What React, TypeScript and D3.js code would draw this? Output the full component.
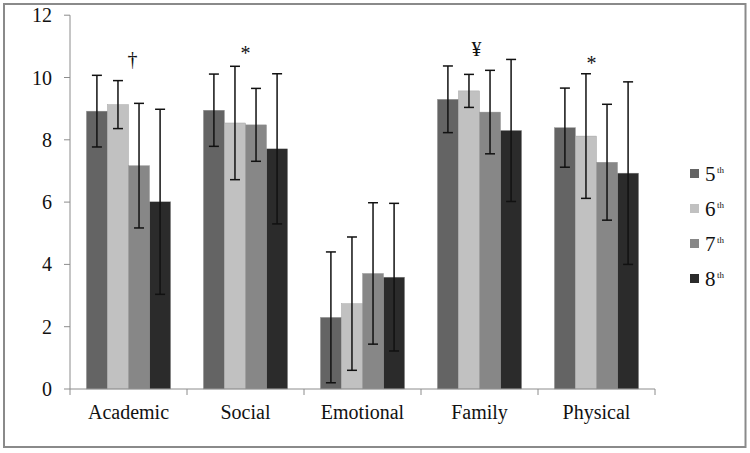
import React from "react";
import * as d3 from "d3";

const categories = ["Academic", "Social", "Emotional", "Family", "Physical"];
const grades = ["5", "6", "7", "8"];
const means = [
  [8.92, 9.13, 7.17, 6.01],
  [8.95, 8.54, 8.48, 7.71],
  [2.3, 2.74, 3.71, 3.59],
  [9.3, 9.57, 8.89, 8.3],
  [8.39, 8.12, 7.28, 6.93],
];
const errors = [
  [1.15, 0.77, 2.0, 2.97],
  [1.16, 1.82, 1.17, 2.41],
  [2.1, 2.14, 2.27, 2.37],
  [1.07, 0.53, 1.34, 2.28],
  [1.27, 2.0, 1.86, 2.93],
];
const markers = ["†", "*", "", "¥", "*"];
const yTicks = [0, 2, 4, 6, 8, 10, 12];
const colors = ["#646464", "#c1c1c1", "#878787", "#2b2b2b"];

export default function App() {
  const W = 750, H = 453;
  const x0 = 70, x1 = 655, yTop = 15.2, yBot = 389;
  const x = d3.scaleBand<string>().domain(categories).range([x0, x1]).paddingInner(0).paddingOuter(0);
  const y = d3.scaleLinear().domain([0, 12]).range([yBot, yTop]);
  const bw = x.bandwidth();
  const groupW = bw * 0.72;
  const barW = groupW / 4;
  const font = "\"Times New Roman\", Tinos, \"Liberation Serif\", \"DejaVu Serif\", \"Noto Serif\", FreeSerif, serif";
  const ts = { fontFamily: font };
  const axisColor = "#8c8c8c";

  return (
    <svg width={W} height={H} style={{ position: "absolute", left: 0, top: 0, fontFamily: font }}>
      <rect x={0} y={0} width={W} height={H} fill="#fff" />
      <rect x={4} y={4} width={741.5} height={443} fill="none" stroke="#8a8a8a" strokeWidth={2} />
      {categories.map((c, ci) => {
        const gx = (x(c) as number) + (bw - groupW) / 2;
        return (
          <g key={c}>
            {grades.map((g, gi) => (
              <rect key={g} x={gx + gi * barW} y={y(means[ci][gi])} width={barW} height={yBot - y(means[ci][gi])}
                fill={colors[gi]} stroke="#9a9a9a" strokeWidth={0.4} />
            ))}
            {grades.map((g, gi) => {
              const cx = gx + gi * barW + barW / 2;
              const hi = y(means[ci][gi] + errors[ci][gi]);
              const lo = y(means[ci][gi] - errors[ci][gi]);
              return (
                <g key={"e" + g} stroke="#111" strokeWidth={1.5}>
                  <line x1={cx} x2={cx} y1={hi} y2={lo} />
                  <line x1={cx - 5} x2={cx + 5} y1={hi} y2={hi} />
                  <line x1={cx - 5} x2={cx + 5} y1={lo} y2={lo} />
                </g>
              );
            })}
            {markers[ci] && (
              <text style={ts} x={(x(c) as number) + bw / 2 + (ci === 0 ? 4 : ci === 3 ? -3 : ci === 4 ? -5 : 0)}
                y={ci === 3 ? 56 : ci === 0 ? 66 : ci === 1 ? 60 : 70} textAnchor="middle" fontSize={20} fill="#111">
                {markers[ci]}
              </text>
            )}
          </g>
        );
      })}
      <line x1={x0} x2={x0} y1={yTop} y2={yBot} stroke={axisColor} strokeWidth={1} />
      {yTicks.map((t) => (
        <g key={t}>
          <line x1={x0 - 6} x2={x0} y1={y(t)} y2={y(t)} stroke={axisColor} strokeWidth={1} />
          <text style={ts} x={52} y={y(t) + 7} textAnchor="end" fontSize={20} fill="#111">{t}</text>
        </g>
      ))}
      <line x1={x0} x2={x1} y1={yBot} y2={yBot} stroke={axisColor} strokeWidth={1} />
      {[...categories.map((c) => x(c) as number), x1].map((bx, i) => (
        <line key={i} x1={bx} x2={bx} y1={yBot} y2={yBot + 6} stroke={axisColor} strokeWidth={1} />
      ))}
      {categories.map((c) => (
        <text style={ts} key={c} x={(x(c) as number) + bw / 2} y={419} textAnchor="middle" fontSize={20} fill="#111">{c}</text>
      ))}
      {grades.map((g, gi) => {
        const ly = 173.5 + gi * 35;
        return (
          <g key={g}>
            <rect x={690} y={ly - 4.5} width={9} height={9} fill={colors[gi]} />
            <text style={ts} x={705} y={ly + 7} fontSize={21} fill="#111">{g}</text>
            <text style={ts} x={717} y={ly - 1} fontSize={9} fill="#111">th</text>
          </g>
        );
      })}
    </svg>
  );
}
